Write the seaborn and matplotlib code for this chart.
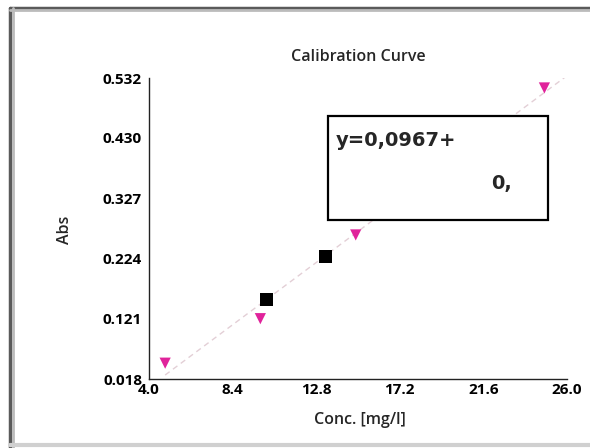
import numpy as np
import pandas as pd
import matplotlib
matplotlib.use("Agg")
import matplotlib.pyplot as plt
import matplotlib.patches as mpatches
import matplotlib.lines as mlines
import seaborn as sns

# ─── Datos ───────────────────────────────────────────────────────────────────
std_conc = [4.85, 9.86, 14.88, 24.81]      # patrones (triángulos magenta)
std_abs  = [0.045, 0.121, 0.264, 0.515]
smp_conc = [10.18, 13.30]                  # muestras (cuadrados negros)
smp_abs  = [0.154, 0.227]

x_ticks = [4.0, 8.4, 12.8, 17.2, 21.6, 26.0]
y_ticks = [0.018, 0.121, 0.224, 0.327, 0.430, 0.532]

eq_line1 = "y=0,0967+"
eq_line2 = "0,"

# ─── Recta de calibración (ajuste a los patrones) ────────────────────────────
pend, orde = np.polyfit(std_conc, std_abs, 1)
x_fit = np.array([min(std_conc), 26.0])
df_fit = pd.DataFrame({"x": x_fit, "y": orde + pend * x_fit})
df_std = pd.DataFrame({"x": std_conc, "y": std_abs})
df_smp = pd.DataFrame({"x": smp_conc, "y": smp_abs})

sns.set_style("white")
plt.rcParams["font.family"] = ["Open Sans", "DejaVu Sans"]

fig = plt.figure(figsize=(5.9, 4.48), dpi=100)
ax = fig.add_axes([149 / 590, 1 - 379 / 448, (567 - 149) / 590, (379 - 78) / 448])

sns.lineplot(data=df_fit, x="x", y="y", ax=ax, color="#e3cfd6",
             lw=1.0, linestyle=(0, (4, 3)), zorder=1)
sns.scatterplot(data=df_std, x="x", y="y", ax=ax, marker="v", s=65,
                color="#e0239b", edgecolor="none", zorder=3)
sns.scatterplot(data=df_smp, x="x", y="y", ax=ax, marker="s", s=80,
                color="black", edgecolor="none", zorder=3)

ax.set_xlim(4.0, 26.0)
ax.set_ylim(0.018, 0.532)
ax.set_xticks(x_ticks)
ax.set_yticks(y_ticks)
ax.set_xticklabels([f"{v:.1f}" for v in x_ticks])
ax.set_yticklabels([f"{v:.3f}" for v in y_ticks])
ax.tick_params(axis="x", direction="in", length=5, width=1, pad=3,
               labelsize=11, colors="black")
ax.tick_params(axis="y", direction="out", length=4, width=0.8, pad=1,
               labelsize=11, colors="black")
for lab in ax.get_xticklabels() + ax.get_yticklabels():
    lab.set_fontweight("bold")

sns.despine(ax=ax)
for s in ["left", "bottom"]:
    ax.spines[s].set_color("#222222")
    ax.spines[s].set_linewidth(1.0)

ax.set_xlabel("")
ax.set_ylabel("")
ax.set_title("Calibration Curve", fontsize=11.5, fontweight="semibold", pad=12)
fig.text(360 / 590, 1 - 420 / 448, "Conc. [mg/l]", ha="center", va="center",
         fontsize=11.5, fontweight="semibold")
fig.text(65 / 590, 1 - 230 / 448, "Abs", ha="center", va="center",
         rotation=90, fontsize=11.5, fontweight="semibold")

# ─── Cuadro de la ecuación ───────────────────────────────────────────────────
caja = mpatches.Rectangle((328 / 590, 1 - 220 / 448), 220 / 590, 104 / 448,
                          transform=fig.transFigure, fill=True,
                          facecolor="white", edgecolor="black", lw=1.6,
                          zorder=5)
fig.add_artist(caja)
fig.text(336 / 590, 1 - 141 / 448, eq_line1, ha="left", va="center",
         fontsize=14, fontweight="bold", family="DejaVu Sans", zorder=6)
fig.text(491 / 590, 1 - 183 / 448, eq_line2, ha="left", va="center",
         fontsize=14, fontweight="bold", family="DejaVu Sans", zorder=6)

# ─── Marco gris de la captura ────────────────────────────────────────────────
fig.add_artist(mlines.Line2D([10 / 590, 1], [1 - 8 / 448, 1 - 8 / 448],
                             transform=fig.transFigure, color="#5a5a5a", lw=2.5))
fig.add_artist(mlines.Line2D([10 / 590, 10 / 590], [0, 1 - 8 / 448],
                             transform=fig.transFigure, color="#5a5a5a", lw=2.5))
fig.add_artist(mlines.Line2D([10 / 590, 1], [1 - 10.5 / 448, 1 - 10.5 / 448],
                             transform=fig.transFigure, color="#bbbbbb", lw=2))
fig.add_artist(mlines.Line2D([12.5 / 590, 12.5 / 590], [0, 1 - 8 / 448],
                             transform=fig.transFigure, color="#bbbbbb", lw=2))
fig.add_artist(mlines.Line2D([10 / 590, 1], [3 / 448, 3 / 448],
                             transform=fig.transFigure, color="#d0d0d0", lw=3))

plt.savefig("out.png", dpi=100)
